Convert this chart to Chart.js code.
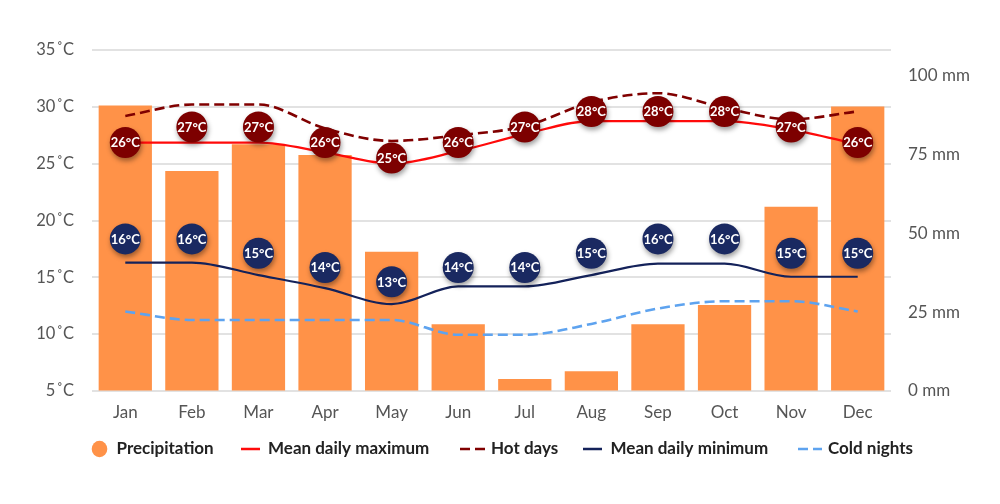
<!DOCTYPE html>
<html><head><meta charset="utf-8">
<script src="https://cdn.jsdelivr.net/npm/chart.js@4.4.1/dist/chart.umd.min.js"></script>
<style>html,body{margin:0;padding:0;background:#fff;}</style>
</head><body>
<canvas id="c" width="1000" height="504"></canvas>
<script>
const months = ['Jan','Feb','Mar','Apr','May','Jun','Jul','Aug','Sep','Oct','Nov','Dec'];
const precipitation = [90.6, 69.8, 78.3, 74.9, 44.2, 21.2, 3.8, 6.3, 21.2, 27.3, 58.5, 90.3];
const meanMax = [26.85, 26.85, 26.85, 26.0, 25.0, 26.1, 27.6, 28.75, 28.75, 28.75, 28.0, 26.7];
const hotDays = [29.2, 30.2, 30.2, 28.1, 27.0, 27.5, 28.3, 30.4, 31.2, 29.9, 28.9, 29.6];
const meanMin = [16.3, 16.3, 15.2, 14.05, 12.65, 14.2, 14.2, 15.2, 16.2, 16.2, 15.05, 15.05];
const coldNights = [12.0, 11.25, 11.25, 11.25, 11.25, 9.95, 9.95, 10.9, 12.25, 12.9, 12.9, 12.0];
const maxLabels = [26, 27, 27, 26, 25, 26, 27, 28, 28, 28, 27, 26];
const minLabels = [16, 16, 15, 14, 13, 14, 14, 15, 16, 16, 15, 15];
const tempTicks = [5, 10, 15, 20, 25, 30, 35];
const rainTicks = [0, 25, 50, 75, 100];

const C = {
  bar: '#ff9248', red: '#ff0a0a', hot: '#800000', navy: '#14225a', cold: '#5ea3ef',
  maxMark: '#7d0000', minMark: '#1a2961', text: '#555555', legend: '#222222', grid: '#e2e2e2'
};
const FONT = 'Lato, "Open Sans", sans-serif';

const markerPlugin = {
  id: 'markers',
  beforeDatasetDraw(chart, args) {
    const ds = chart.data.datasets[args.index];
    if (!ds.markerLabels) return;
    const ctx = chart.ctx;
    ctx.save();
    ctx.shadowColor = 'rgba(0,0,0,0.38)';
    ctx.shadowBlur = 5;
    ctx.shadowOffsetX = 1;
    ctx.shadowOffsetY = 3;
  },
  afterDatasetDraw(chart, args) {
    const ds = chart.data.datasets[args.index];
    if (!ds.markerLabels) return;
    const ctx = chart.ctx;
    ctx.restore();
    ctx.save();
    ctx.fillStyle = '#ffffff';
    ctx.font = 'bold 13px ' + FONT;
    ctx.textAlign = 'center';
    ctx.textBaseline = 'middle';
    args.meta.data.forEach((pt, i) => {
      ctx.fillText(ds.markerLabels[i] + '°C', pt.x, pt.y + 0.5);
    });
    ctx.restore();
  }
};

const legendPlugin = {
  id: 'customLegend',
  afterDraw(chart) {
    const ctx = chart.ctx;
    const y = 449;
    const items = [
      {ds: 0, kind: 'circle', x0: 99.5, tx: 116.5},
      {ds: 1, kind: 'line', x0: 241, x1: 260, tx: 268},
      {ds: 2, kind: 'dash', x0: 460, x1: 485, tx: 491},
      {ds: 3, kind: 'line', x0: 583, x1: 602, tx: 610.5},
      {ds: 4, kind: 'dash', x0: 798, x1: 822, tx: 828}
    ];
    ctx.save();
    items.forEach(it => {
      const ds = chart.data.datasets[it.ds];
      if (it.kind === 'circle') {
        ctx.fillStyle = ds.backgroundColor;
        ctx.beginPath();
        ctx.ellipse(it.x0, y, 7.8, 8.2, 0, 0, Math.PI * 2);
        ctx.fill();
      } else {
        ctx.strokeStyle = ds.borderColor;
        ctx.lineWidth = 2.5;
        ctx.setLineDash(it.kind === 'dash' ? [10, 5] : []);
        ctx.beginPath();
        ctx.moveTo(it.x0, y);
        ctx.lineTo(it.x1, y);
        ctx.stroke();
        ctx.setLineDash([]);
      }
      ctx.fillStyle = C.legend;
      ctx.font = 'bold 17px ' + FONT;
      ctx.textAlign = 'left';
      ctx.textBaseline = 'middle';
      ctx.fillText(ds.label, it.tx, y);
    });
    ctx.restore();
  }
};

const lineCommon = {
  type: 'line', yAxisID: 'y', pointRadius: 0, pointHoverRadius: 0,
  cubicInterpolationMode: 'monotone', fill: false, clip: false
};

new Chart(document.getElementById('c'), {
  type: 'bar',
  data: {
    labels: months,
    datasets: [
      {label: 'Precipitation', data: precipitation, yAxisID: 'yRain', backgroundColor: C.bar,
        barPercentage: 0.8, categoryPercentage: 1.0, order: 10},
      Object.assign({}, lineCommon, {label: 'Mean daily maximum', data: meanMax, borderColor: C.red, borderWidth: 2.2, order: 5}),
      Object.assign({}, lineCommon, {label: 'Hot days', data: hotDays, borderColor: C.hot, borderWidth: 2.6, borderDash: [10, 5], order: 6}),
      Object.assign({}, lineCommon, {label: 'Mean daily minimum', data: meanMin, borderColor: C.navy, borderWidth: 2.2, order: 5}),
      Object.assign({}, lineCommon, {label: 'Cold nights', data: coldNights, borderColor: C.cold, borderWidth: 2.6, borderDash: [10, 5], order: 6}),
      {type: 'line', label: 'maxMarkers', data: maxLabels, markerLabels: maxLabels, yAxisID: 'yMaxMark',
        showLine: false, pointRadius: 15.5, pointHoverRadius: 15.5, pointBorderWidth: 0,
        pointBackgroundColor: C.maxMark, borderColor: C.maxMark, clip: false, order: 1},
      {type: 'line', label: 'minMarkers', data: minLabels, markerLabels: minLabels, yAxisID: 'yMinMark',
        showLine: false, pointRadius: 15.5, pointHoverRadius: 15.5, pointBorderWidth: 0,
        pointBackgroundColor: C.minMark, borderColor: C.minMark, clip: false, order: 1}
    ]
  },
  options: {
    responsive: false,
    animation: false,
    devicePixelRatio: 1,
    layout: {padding: {top: 50, left: 0, right: 0, bottom: 0}},
    plugins: {legend: {display: false}, tooltip: {enabled: false}},
    events: [],
    scales: {
      x: {
        offset: true,
        grid: {display: false, drawTicks: false},
        border: {display: false},
        ticks: {color: C.text, font: {family: FONT, size: 17}, padding: 11},
        afterFit(s) { s.height = 113; }
      },
      y: {
        position: 'left', min: 5, max: 35,
        afterBuildTicks(s) { s.ticks = tempTicks.map(v => ({value: v})); },
        grid: {color: C.grid, lineWidth: 2, drawTicks: false},
        border: {display: false},
        ticks: {color: C.text, font: {family: FONT, size: 16.5}, padding: 18,
          callback: v => v + '\u200A˚C'},
        afterFit(s) { s.width = 92; }
      },
      yRain: {
        position: 'right', min: 0, max: 108.25,
        afterBuildTicks(s) { s.ticks = rainTicks.map(v => ({value: v})); },
        grid: {drawOnChartArea: false, drawTicks: false},
        border: {display: false},
        ticks: {color: C.text, font: {family: FONT, size: 17}, padding: 17,
          callback: v => v + ' mm'},
        afterFit(s) { s.width = 109; }
      },
      yMaxMark: {display: false, min: 10.03, max: 31.95},
      yMinMark: {display: false, min: 5.38, max: 29.19}
    }
  },
  plugins: [markerPlugin, legendPlugin]
});
</script>
</body></html>
